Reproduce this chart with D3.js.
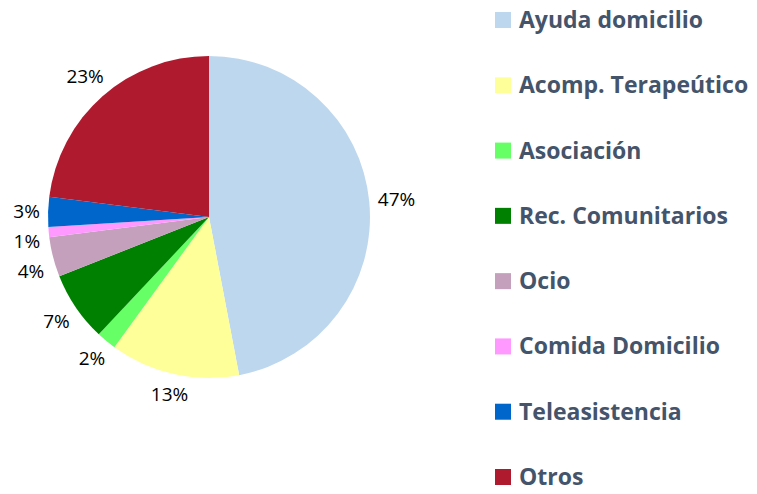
<!DOCTYPE html>
<html>
<head>
<meta charset="utf-8">
<script src="https://cdn.jsdelivr.net/npm/d3@7"></script>
<style>
  body { margin: 0; background: #fff; }
  svg { display: block; }
</style>
</head>
<body>
<script>
var categories = ['Ayuda domicilio', 'Acomp. Terapeútico', 'Asociación', 'Rec. Comunitarios', 'Ocio', 'Comida Domicilio', 'Teleasistencia', 'Otros'];
var values = [47, 13, 2, 7, 4, 1, 3, 23];
var colors = ['#BDD7EE', '#FFFF99', '#66FF66', '#008000', '#C4A0BC', '#FF99FF', '#0066CC', '#AF1A2E'];

var width = 757, height = 494;
var cx = 209, cy = 217, radius = 161;

var svg = d3.select('body').append('svg').attr('width', width).attr('height', height);

var data = categories.map((c, i) => ({name: c, value: values[i], color: colors[i]}));

var pie = d3.pie().value(d => d.value).sort(null);
var arc = d3.arc().innerRadius(0).outerRadius(radius);
var arcs = pie(data);

var chartGroup = svg.append('g').attr('transform', 'translate(' + cx + ',' + cy + ')');

chartGroup.selectAll('path.slice')
    .data(arcs)
    .enter()
    .append('path')
        .attr('class', 'slice')
        .attr('d', arc)
        .attr('fill', d => d.data.color);

// percentage labels, outside end
var labels = chartGroup.selectAll('text.pct')
    .data(arcs)
    .enter()
    .append('text')
        .attr('class', 'pct')
        .attr('font-family', 'Open Sans, sans-serif')
        .attr('font-size', 19)
        .attr('fill', '#000')
        .attr('text-anchor', 'middle')
        .attr('dominant-baseline', 'central')
        .text(d => d.data.value + '%')
        .each(function(d) {
            var a = (d.startAngle + d.endAngle) / 2;
            var dx = Math.sin(a), dy = -Math.cos(a);
            var w = this.getComputedTextLength(), h = 16;
            var dist = radius + 8 + Math.abs(dx) * w / 2 + Math.abs(dy) * h / 2;
            d.lx = dx * dist;
            d.ly = dy * dist;
        });

// push small crowded labels apart vertically
var minGap = 30;
[arcs.filter(d => d.lx < 0), arcs.filter(d => d.lx >= 0)].forEach(side => {
    side.sort((a, b) => a.ly - b.ly);
    for (var i = 1; i < side.length; i++) {
        if (side[i].ly - side[i - 1].ly < minGap) side[i].ly = side[i - 1].ly + minGap;
    }
});

labels.attr('x', d => d.lx).attr('y', d => d.ly);

// legend
var legendY = d3.scalePoint().domain(categories).range([20, 477]);

var legend = svg.selectAll('g.legend')
    .data(data)
    .enter()
    .append('g')
        .attr('class', 'legend')
        .attr('transform', d => 'translate(495,' + legendY(d.name) + ')');

legend.append('rect')
    .attr('x', 0).attr('y', -8)
    .attr('width', 16).attr('height', 16)
    .attr('fill', d => d.color);

legend.append('text')
    .attr('x', 24)
    .attr('y', 8)
    .attr('font-family', 'Open Sans, sans-serif')
    .attr('font-weight', 'bold')
    .attr('font-size', 23)
    .attr('fill', '#44546A')
    .text(d => d.name);
</script>
</body>
</html>
